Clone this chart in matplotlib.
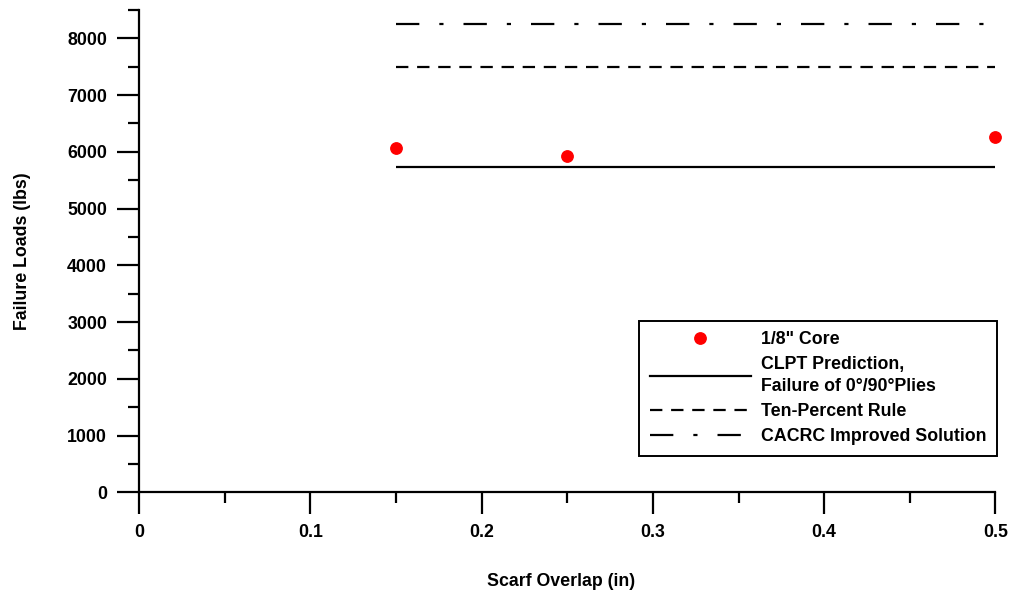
import matplotlib
matplotlib.use("Agg")
import matplotlib.pyplot as plt
from matplotlib.lines import Line2D
from matplotlib.ticker import MultipleLocator

# Measured failure loads for the 1/8" core specimens
overlap = [0.15, 0.25, 0.5]
failure_load = [6070, 5930, 6260]

# Predicted failure loads over the tested overlap range
pred_x = [0.15, 0.5]
clpt_load = [5725, 5725]
ten_percent_load = [7490, 7490]
cacrc_load = [8257, 8257]

x_ticks = [0, 0.1, 0.2, 0.3, 0.4, 0.5]
x_tick_labels = ["0", "0.1", "0.2", "0.3", "0.4", "0.5"]
y_ticks = [0, 1000, 2000, 3000, 4000, 5000, 6000, 7000, 8000]

labels = ['1/8" Core', "CLPT Prediction,\nFailure of 0°/90°Plies",
          "Ten-Percent Rule", "CACRC Improved Solution"]

plt.rcParams["font.family"] = ["Liberation Sans", "DejaVu Sans"]
plt.rcParams["font.weight"] = "bold"
plt.rcParams["lines.scale_dashes"] = False

FS = 12.8

fig = plt.figure(figsize=(10.1, 5.94), dpi=100)
ax = fig.add_axes([0.1376, 0.1712, 0.848, 0.812])

lw = 1.6
dash = (0, (8.9, 6.3))
dashdot = (0, (16.8, 14.4, 3.0, 14.4))

ax.plot(pred_x, clpt_load, color="black", lw=lw, solid_capstyle="butt")
ax.plot(pred_x, ten_percent_load, color="black", lw=lw, linestyle=dash,
        dash_capstyle="butt")
ax.plot(pred_x, cacrc_load, color="black", lw=lw, linestyle=dashdot,
        dash_capstyle="butt")
ax.plot(overlap, failure_load, linestyle="none", marker="o", ms=8.2,
        color="red", mec="red", clip_on=False)

ax.set_xlim(0, 0.5)
ax.set_ylim(0, 8500)
ax.xaxis.set_minor_locator(MultipleLocator(0.05))
ax.yaxis.set_minor_locator(MultipleLocator(500))
ax.set_xticks(x_ticks)
ax.set_xticklabels(x_tick_labels)
ax.set_yticks(y_ticks)

for side in ("top", "right"):
    ax.spines[side].set_visible(False)
for side in ("left", "bottom"):
    ax.spines[side].set_linewidth(1.6)

ax.tick_params(which="major", direction="out", length=15.5, width=1.6,
               labelsize=FS, pad=7.5)
ax.tick_params(which="minor", direction="out", length=8, width=1.6)

ax.set_xlabel("Scarf Overlap (in)", fontsize=FS, fontweight="bold")
ax.xaxis.label.set_verticalalignment("center")
ax.xaxis.set_label_coords(0.493, -0.184)
ax.set_ylabel("Failure Loads (lbs)", fontsize=FS, fontweight="bold", labelpad=26)

handles = [
    Line2D([], [], linestyle="none", marker="o", ms=8.2, color="red", mec="red"),
    Line2D([], [], color="black", lw=lw),
    Line2D([], [], color="black", lw=lw, linestyle=dash, dash_capstyle="butt"),
    Line2D([], [], color="black", lw=lw, linestyle=dashdot, dash_capstyle="butt"),
]
leg = ax.legend(handles, labels, loc="lower right", bbox_to_anchor=(1.002, 0.075),
                prop={"size": FS, "weight": "bold"}, frameon=True, fancybox=False,
                edgecolor="black", framealpha=1, handlelength=5.7,
                handletextpad=0.56, labelspacing=0.45, borderpad=0.6,
                borderaxespad=0)
leg.get_frame().set_linewidth(1.4)
leg.get_texts()[1].set_linespacing(1.4)

fig.savefig("out.png", dpi=100)
